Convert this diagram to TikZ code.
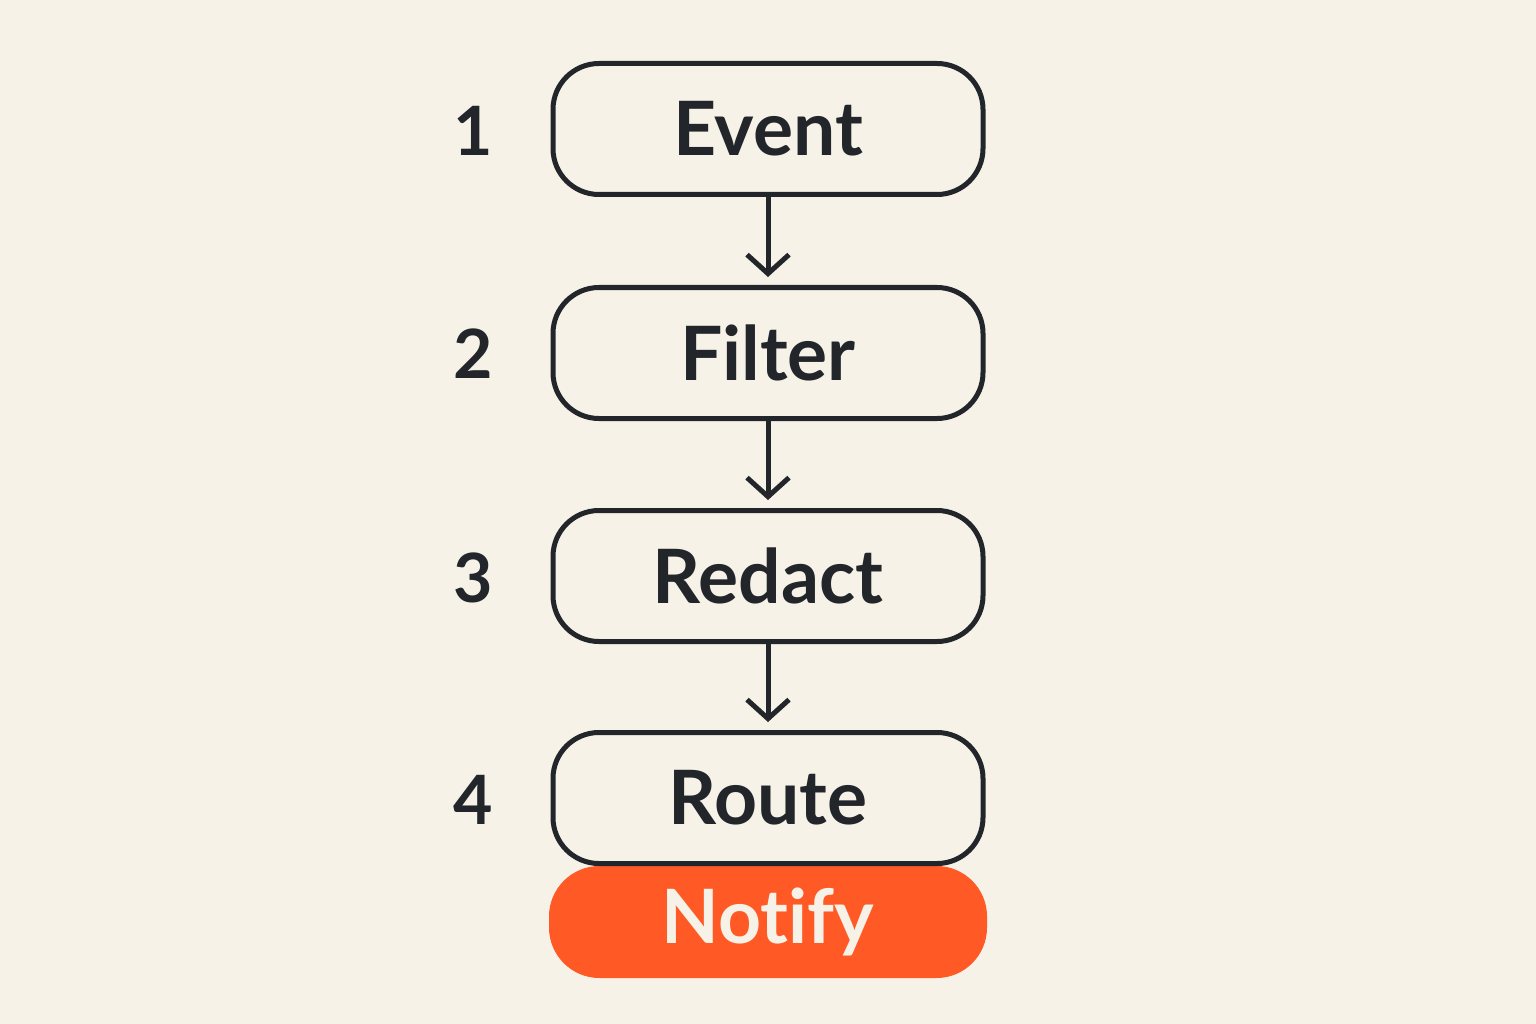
\documentclass[tikz,border=0pt]{standalone}
\usepackage{fontspec}
\setmainfont{Lato}[Ligatures={NoCommon}]
\usetikzlibrary{arrows.meta}
\definecolor{bg}{HTML}{F7F2E8}
\definecolor{ink}{HTML}{22262A}
\definecolor{orng}{HTML}{FF5A26}
\begin{document}
\begin{tikzpicture}[x=1pt,y=-1pt,
  stepbox/.style={draw=ink,line width=5pt,rounded corners=46pt,minimum width=430pt,minimum height=131pt,inner sep=0pt,text=ink,font=\fontsize{75}{80}\selectfont\bfseries},
  notebox/.style={draw=orng,fill=orng,line width=1pt,rounded corners=50pt,minimum width=437pt,minimum height=111pt,inner sep=0pt,text=bg,font=\fontsize{75}{80}\selectfont\bfseries},
  num/.style={text=ink,font=\fontsize{68}{70}\selectfont\bfseries},
  flow/.style={draw=ink,line width=5pt,-{Straight Barb[length=19pt,width=42pt,line width=5pt]},shorten >=8pt}]
\fill[bg] (0,0) rectangle (1536,1024);
\useasboundingbox (0,0) rectangle (1536,1024);
\node[notebox] (n) at (768,922) {Notify};
\node[stepbox] (e) at (768,129) {Event};
\node[stepbox] (f) at (768,353) {Filter};
\node[stepbox] (r) at (768,576) {Redact};
\node[stepbox] (ro) at (768,798) {Route};
\node[num] (n1) at (473,131) {1};
\node[num] (n2) at (473,354) {2};
\node[num] (n3) at (473,578) {3};
\node[num] (n4) at (473,800) {4};
\draw[flow] (e) -- (f);
\draw[flow] (f) -- (r);
\draw[flow] (r) -- (ro);
\end{tikzpicture}
\end{document}
